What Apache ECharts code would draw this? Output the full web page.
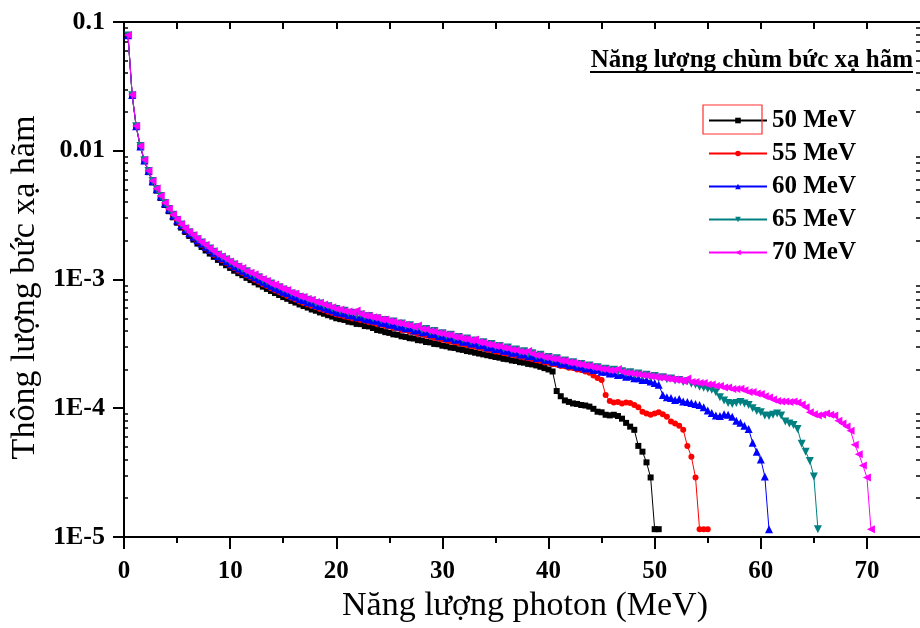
<!DOCTYPE html>
<html>
<head>
<meta charset="utf-8">
<script src="https://cdn.jsdelivr.net/npm/echarts@6/dist/echarts.min.js"></script>
<style>
  html, body { margin: 0; padding: 0; background: #ffffff; }
  #chart { width: 920px; height: 628px; }
</style>
</head>
<body>
<div id="chart"></div>
<script>
// Photon energy bin centres (MeV)
const energyMeV = [
  0.38,0.77,1.15,1.54,1.92,2.31,2.69,3.08,3.46,3.85,4.23,4.62,5.00,
  5.38,5.77,6.15,6.54,6.92,7.31,7.69,8.08,8.46,8.85,9.23,9.62,10.00,
  10.38,10.77,11.15,11.54,11.92,12.31,12.69,13.08,13.46,13.85,14.23,14.62,15.00,
  15.38,15.77,16.15,16.54,16.92,17.31,17.69,18.08,18.46,18.85,19.23,19.62,20.00,
  20.38,20.77,21.15,21.54,21.92,22.31,22.69,23.08,23.46,23.85,24.23,24.62,25.00,
  25.38,25.77,26.15,26.54,26.92,27.31,27.69,28.08,28.46,28.85,29.23,29.62,30.00,
  30.38,30.77,31.15,31.54,31.92,32.31,32.69,33.08,33.46,33.85,34.23,34.62,35.00,
  35.38,35.77,36.15,36.54,36.92,37.31,37.69,38.08,38.46,38.85,39.23,39.62,40.00,
  40.38,40.77,41.15,41.54,41.92,42.31,42.69,43.08,43.46,43.85,44.23,44.62,45.00,
  45.38,45.77,46.15,46.54,46.92,47.31,47.69,48.08,48.46,48.85,49.23,49.62,50.00,
  50.38,50.77,51.15,51.54,51.92,52.31,52.69,53.08,53.46,53.85,54.23,54.62,55.00,
  55.38,55.77,56.15,56.54,56.92,57.31,57.69,58.08,58.46,58.85,59.23,59.62,60.00,
  60.38,60.77,61.15,61.54,61.92,62.31,62.69,63.08,63.46,63.85,64.23,64.62,65.00,
  65.38,65.77,66.15,66.54,66.92,67.31,67.69,68.08,68.46,68.85,69.23,69.62,70.00,
  70.38
];

// Bremsstrahlung photon flux for each beam energy
const flux50 = [
  7.80e-2,2.68e-2,1.53e-2,1.07e-2,8.30e-3,6.82e-3,5.68e-3,4.90e-3,4.30e-3,3.79e-3,3.39e-3,3.04e-3,2.76e-3,
  2.53e-3,2.34e-3,2.18e-3,2.04e-3,1.90e-3,1.79e-3,1.68e-3,1.59e-3,1.50e-3,1.42e-3,1.35e-3,1.29e-3,1.23e-3,
  1.17e-3,1.12e-3,1.08e-3,1.03e-3,9.90e-4,9.50e-4,9.15e-4,8.80e-4,8.45e-4,8.15e-4,7.85e-4,7.58e-4,7.30e-4,
  7.08e-4,6.82e-4,6.62e-4,6.40e-4,6.22e-4,6.05e-4,5.85e-4,5.72e-4,5.55e-4,5.42e-4,5.28e-4,5.15e-4,5.00e-4,
  4.92e-4,4.85e-4,4.70e-4,4.65e-4,4.52e-4,4.50e-4,4.35e-4,4.32e-4,4.20e-4,4.05e-4,4.00e-4,3.90e-4,3.85e-4,
  3.75e-4,3.72e-4,3.62e-4,3.58e-4,3.50e-4,3.48e-4,3.38e-4,3.36e-4,3.27e-4,3.25e-4,3.16e-4,3.14e-4,3.06e-4,
  3.03e-4,2.96e-4,2.94e-4,2.87e-4,2.84e-4,2.78e-4,2.75e-4,2.70e-4,2.66e-4,2.62e-4,2.58e-4,2.54e-4,2.50e-4,
  2.47e-4,2.42e-4,2.40e-4,2.35e-4,2.33e-4,2.28e-4,2.26e-4,2.21e-4,2.19e-4,2.15e-4,2.10e-4,2.05e-4,2.00e-4,
  1.93e-4,1.36e-4,1.24e-4,1.15e-4,1.12e-4,1.09e-4,1.08e-4,1.06e-4,1.05e-4,1.03e-4,9.9e-5,9.4e-5,9.3e-5,
  8.9e-5,8.8e-5,8.9e-5,8.7e-5,8.3e-5,7.7e-5,7.2e-5,6.8e-5,5.1e-5,4.6e-5,3.8e-5,2.9e-5,1.15e-5,
  1.15e-5
];
const flux55 = [
  7.88e-2,2.70e-2,1.54e-2,1.08e-2,8.38e-3,6.90e-3,5.76e-3,4.98e-3,4.38e-3,3.86e-3,3.46e-3,3.10e-3,2.83e-3,
  2.60e-3,2.41e-3,2.25e-3,2.11e-3,1.97e-3,1.86e-3,1.75e-3,1.66e-3,1.56e-3,1.48e-3,1.41e-3,1.35e-3,1.28e-3,
  1.23e-3,1.17e-3,1.13e-3,1.08e-3,1.04e-3,9.95e-4,9.60e-4,9.20e-4,8.90e-4,8.55e-4,8.25e-4,7.98e-4,7.70e-4,
  7.45e-4,7.20e-4,6.98e-4,6.75e-4,6.58e-4,6.40e-4,6.22e-4,6.08e-4,5.90e-4,5.78e-4,5.62e-4,5.50e-4,5.34e-4,
  5.28e-4,5.15e-4,5.10e-4,4.98e-4,4.95e-4,4.82e-4,4.78e-4,4.65e-4,4.62e-4,4.50e-4,4.46e-4,4.35e-4,4.32e-4,
  4.20e-4,4.18e-4,4.05e-4,4.04e-4,3.92e-4,3.90e-4,3.78e-4,3.76e-4,3.65e-4,3.63e-4,3.52e-4,3.50e-4,3.40e-4,
  3.38e-4,3.30e-4,3.26e-4,3.20e-4,3.15e-4,3.10e-4,3.05e-4,3.00e-4,2.95e-4,2.92e-4,2.85e-4,2.83e-4,2.76e-4,
  2.74e-4,2.68e-4,2.65e-4,2.60e-4,2.56e-4,2.52e-4,2.48e-4,2.44e-4,2.40e-4,2.36e-4,2.33e-4,2.28e-4,2.26e-4,
  2.20e-4,2.19e-4,2.13e-4,2.12e-4,2.06e-4,2.05e-4,2.00e-4,1.98e-4,1.93e-4,1.89e-4,1.80e-4,1.72e-4,1.66e-4,
  1.27e-4,1.14e-4,1.11e-4,1.12e-4,1.09e-4,1.11e-4,1.10e-4,1.06e-4,1.02e-4,9.4e-5,9.1e-5,8.9e-5,9.1e-5,
  9.3e-5,9.0e-5,8.6e-5,7.9e-5,7.6e-5,7.3e-5,6.8e-5,5.1e-5,4.2e-5,2.9e-5,1.15e-5,1.15e-5,1.15e-5
];
const flux60 = [
  7.90e-2,2.71e-2,1.55e-2,1.08e-2,8.40e-3,6.95e-3,5.80e-3,5.02e-3,4.42e-3,3.90e-3,3.50e-3,3.14e-3,2.87e-3,
  2.64e-3,2.45e-3,2.29e-3,2.15e-3,2.02e-3,1.90e-3,1.80e-3,1.70e-3,1.61e-3,1.52e-3,1.46e-3,1.39e-3,1.33e-3,
  1.27e-3,1.22e-3,1.17e-3,1.12e-3,1.08e-3,1.04e-3,1.00e-3,9.60e-4,9.25e-4,8.95e-4,8.62e-4,8.35e-4,8.05e-4,
  7.85e-4,7.52e-4,7.35e-4,7.05e-4,6.92e-4,6.68e-4,6.60e-4,6.35e-4,6.22e-4,6.05e-4,5.90e-4,5.78e-4,5.60e-4,
  5.52e-4,5.45e-4,5.30e-4,5.25e-4,5.12e-4,5.10e-4,4.95e-4,4.90e-4,4.80e-4,4.78e-4,4.62e-4,4.60e-4,4.48e-4,
  4.46e-4,4.32e-4,4.32e-4,4.18e-4,4.20e-4,4.02e-4,4.05e-4,3.90e-4,3.92e-4,3.76e-4,3.78e-4,3.63e-4,3.64e-4,
  3.52e-4,3.54e-4,3.40e-4,3.42e-4,3.28e-4,3.30e-4,3.18e-4,3.20e-4,3.08e-4,3.10e-4,2.98e-4,2.98e-4,2.88e-4,
  2.90e-4,2.80e-4,2.80e-4,2.70e-4,2.72e-4,2.62e-4,2.63e-4,2.54e-4,2.55e-4,2.46e-4,2.48e-4,2.38e-4,2.38e-4,
  2.30e-4,2.31e-4,2.22e-4,2.24e-4,2.16e-4,2.17e-4,2.10e-4,2.11e-4,2.04e-4,2.05e-4,1.98e-4,1.99e-4,1.92e-4,
  1.92e-4,1.86e-4,1.87e-4,1.81e-4,1.82e-4,1.76e-4,1.77e-4,1.71e-4,1.71e-4,1.66e-4,1.66e-4,1.61e-4,1.57e-4,
  1.52e-4,1.27e-4,1.22e-4,1.20e-4,1.16e-4,1.18e-4,1.13e-4,1.12e-4,1.10e-4,1.08e-4,1.06e-4,1.02e-4,9.6e-5,
  9.2e-5,8.8e-5,8.7e-5,9.0e-5,8.9e-5,8.6e-5,8.0e-5,7.7e-5,7.3e-5,6.9e-5,5.4e-5,4.6e-5,4.0e-5,
  2.95e-5,1.15e-5
];
const flux65 = [
  7.85e-2,2.70e-2,1.55e-2,1.09e-2,8.45e-3,6.95e-3,5.82e-3,5.05e-3,4.46e-3,3.93e-3,3.53e-3,3.18e-3,2.90e-3,
  2.68e-3,2.48e-3,2.33e-3,2.19e-3,2.05e-3,1.94e-3,1.83e-3,1.74e-3,1.64e-3,1.56e-3,1.49e-3,1.43e-3,1.36e-3,
  1.31e-3,1.25e-3,1.20e-3,1.16e-3,1.11e-3,1.07e-3,1.04e-3,9.90e-4,9.60e-4,9.30e-4,8.90e-4,8.70e-4,8.35e-4,
  8.15e-4,7.80e-4,7.65e-4,7.30e-4,7.20e-4,6.95e-4,6.85e-4,6.55e-4,6.50e-4,6.25e-4,6.20e-4,5.95e-4,5.90e-4,
  5.70e-4,5.72e-4,5.50e-4,5.52e-4,5.30e-4,5.35e-4,5.15e-4,5.20e-4,4.98e-4,5.00e-4,4.82e-4,4.85e-4,4.65e-4,
  4.72e-4,4.50e-4,4.55e-4,4.35e-4,4.42e-4,4.20e-4,4.25e-4,4.05e-4,4.12e-4,3.92e-4,3.98e-4,3.78e-4,3.82e-4,
  3.66e-4,3.72e-4,3.52e-4,3.58e-4,3.42e-4,3.48e-4,3.30e-4,3.36e-4,3.20e-4,3.25e-4,3.10e-4,3.15e-4,3.00e-4,
  3.05e-4,2.90e-4,2.96e-4,2.82e-4,2.86e-4,2.72e-4,2.77e-4,2.64e-4,2.68e-4,2.55e-4,2.60e-4,2.46e-4,2.50e-4,
  2.39e-4,2.44e-4,2.32e-4,2.35e-4,2.25e-4,2.28e-4,2.18e-4,2.21e-4,2.12e-4,2.15e-4,2.06e-4,2.08e-4,2.00e-4,
  2.03e-4,1.96e-4,1.99e-4,1.91e-4,1.94e-4,1.87e-4,1.90e-4,1.83e-4,1.86e-4,1.79e-4,1.82e-4,1.75e-4,1.78e-4,
  1.71e-4,1.74e-4,1.68e-4,1.70e-4,1.64e-4,1.66e-4,1.60e-4,1.62e-4,1.55e-4,1.52e-4,1.47e-4,1.44e-4,1.42e-4,
  1.39e-4,1.33e-4,1.22e-4,1.15e-4,1.10e-4,1.08e-4,1.10e-4,1.12e-4,1.09e-4,1.06e-4,1.00e-4,9.5e-5,9.3e-5,
  8.8e-5,8.7e-5,8.9e-5,9.1e-5,8.8e-5,7.9e-5,7.6e-5,7.4e-5,6.9e-5,5.3e-5,4.6e-5,3.9e-5,2.95e-5,
  1.15e-5
];
const flux70 = [
  7.93e-2,2.72e-2,1.56e-2,1.09e-2,8.50e-3,7.00e-3,5.85e-3,5.08e-3,4.48e-3,3.95e-3,3.55e-3,3.19e-3,2.92e-3,
  2.69e-3,2.50e-3,2.34e-3,2.21e-3,2.07e-3,1.95e-3,1.85e-3,1.75e-3,1.66e-3,1.57e-3,1.51e-3,1.44e-3,1.38e-3,
  1.32e-3,1.27e-3,1.23e-3,1.16e-3,1.13e-3,1.10e-3,1.04e-3,1.01e-3,9.75e-4,9.28e-4,9.15e-4,8.75e-4,8.45e-4,
  8.30e-4,7.90e-4,7.75e-4,7.40e-4,7.30e-4,7.05e-4,6.95e-4,6.70e-4,6.60e-4,6.40e-4,6.25e-4,6.10e-4,5.90e-4,
  5.85e-4,5.70e-4,5.65e-4,5.55e-4,5.75e-4,5.40e-4,5.25e-4,5.20e-4,5.10e-4,5.05e-4,4.90e-4,4.88e-4,4.75e-4,
  4.70e-4,4.60e-4,4.55e-4,4.45e-4,4.40e-4,4.28e-4,4.40e-4,4.12e-4,4.10e-4,3.98e-4,3.95e-4,3.84e-4,3.80e-4,
  3.72e-4,3.70e-4,3.58e-4,3.56e-4,3.47e-4,3.45e-4,3.36e-4,3.42e-4,3.25e-4,3.22e-4,3.14e-4,3.12e-4,3.05e-4,
  3.03e-4,2.95e-4,2.93e-4,2.85e-4,2.83e-4,2.76e-4,2.74e-4,2.78e-4,2.65e-4,2.58e-4,2.57e-4,2.49e-4,2.48e-4,
  2.42e-4,2.41e-4,2.34e-4,2.33e-4,2.27e-4,2.26e-4,2.21e-4,2.19e-4,2.14e-4,2.13e-4,2.08e-4,2.06e-4,2.02e-4,
  2.01e-4,1.97e-4,1.97e-4,2.02e-4,1.92e-4,1.89e-4,1.88e-4,1.85e-4,1.84e-4,1.81e-4,1.80e-4,1.77e-4,1.76e-4,
  1.73e-4,1.73e-4,1.70e-4,1.69e-4,1.67e-4,1.66e-4,1.63e-4,1.70e-4,1.60e-4,1.60e-4,1.57e-4,1.57e-4,1.53e-4,
  1.53e-4,1.49e-4,1.49e-4,1.45e-4,1.45e-4,1.41e-4,1.41e-4,1.42e-4,1.38e-4,1.34e-4,1.34e-4,1.30e-4,1.29e-4,
  1.24e-4,1.21e-4,1.17e-4,1.14e-4,1.13e-4,1.13e-4,1.12e-4,1.13e-4,1.11e-4,1.07e-4,1.02e-4,9.3e-5,9.0e-5,
  8.8e-5,8.9e-5,9.1e-5,8.9e-5,8.8e-5,8.0e-5,7.6e-5,7.2e-5,6.7e-5,5.2e-5,4.4e-5,3.6e-5,2.9e-5,
  1.15e-5
];

const seriesNames = ['50 MeV', '55 MeV', '60 MeV', '65 MeV', '70 MeV'];
const seriesFlux = [flux50, flux55, flux60, flux65, flux70];
const seriesColors = ['#000000', '#ff0000', '#0000ff', '#008080', '#ff00ff'];
const seriesSymbols = ['rect', 'circle', 'triangle', 'triangle', 'triangle'];
const symbolRotations = [0, 0, 0, 180, 90];
const symbolSizes = [6, 6, 8, 8, 8];

const xTickValues = [0, 10, 20, 30, 40, 50, 60, 70];
const xMinorTickValues = [5, 15, 25, 35, 45, 55, 65];
const xTopTickValues = [0, 5, 10, 15, 20, 25, 30, 35, 40, 45, 50, 55, 60, 65, 70];
const yTickValues = [1e-5, 1e-4, 1e-3, 1e-2, 1e-1];
const yTickLabels = ['1E-5', '1E-4', '1E-3', '0.01', '0.1'];
const legendTitle = 'Năng lượng chùm bức xạ hãm';
const xAxisTitle = 'Năng lượng photon (MeV)';
const yAxisTitle = 'Thông lượng bức xạ hãm';

// log-scale minor ticks (2..9 within each decade)
const yMinorTickValues = [];
for (let e = -5; e < -1; e++) {
  for (let m = 2; m <= 9; m++) yMinorTickValues.push(m * Math.pow(10, e));
}

const SERIF = 'Liberation Serif';
const X_MIN = 0, X_MAX = 75, Y_MIN = 1e-5, Y_MAX = 0.1;
const lineBlack = { show: true, lineStyle: { color: '#000', width: 2 } };

function xAxisBase(extra) {
  return Object.assign({
    type: 'value', min: X_MIN, max: X_MAX,
    splitLine: { show: false }, axisLabel: { show: false }
  }, extra);
}
function yAxisBase(extra) {
  return Object.assign({
    type: 'log', logBase: 10, min: Y_MIN, max: Y_MAX,
    splitLine: { show: false }, axisLabel: { show: false }
  }, extra);
}

const chart = echarts.init(document.getElementById('chart'), null, { renderer: 'canvas' });

const option = {
  animation: false,
  backgroundColor: '#ffffff',
  grid: { left: 124, right: -3, top: 22, bottom: 90, containLabel: false },
  xAxis: [
    xAxisBase({
      position: 'bottom',
      axisLine: lineBlack,
      axisTick: { show: true, inside: false, length: 12, customValues: xTickValues, lineStyle: { color: '#000', width: 2 } },
      axisLabel: {
        show: true, customValues: xTickValues, margin: 22,
        fontFamily: SERIF, fontWeight: 'bold', fontSize: 25, color: '#000'
      },
      name: xAxisTitle, nameLocation: 'middle', nameGap: 52,
      nameTextStyle: { fontFamily: SERIF, fontSize: 34, color: '#000', padding: [0, 0, 0, 6] }
    }),
    xAxisBase({
      position: 'bottom',
      axisLine: { show: false },
      axisTick: { show: true, inside: false, length: 6, customValues: xMinorTickValues, lineStyle: { color: '#000', width: 2 } }
    }),
    xAxisBase({
      position: 'top',
      axisLine: lineBlack,
      axisTick: { show: true, inside: true, length: 7, customValues: xTopTickValues, lineStyle: { color: '#000', width: 2 } }
    })
  ],
  yAxis: [
    yAxisBase({
      position: 'left',
      axisLine: lineBlack,
      axisTick: { show: true, inside: false, length: 11, customValues: yTickValues, lineStyle: { color: '#000', width: 2 } },
      axisLabel: {
        show: true, customValues: yTickValues, margin: 19,
        fontFamily: SERIF, fontWeight: 'bold', fontSize: 26, color: '#000',
        formatter: v => yTickLabels[Math.round(Math.log10(v)) + 5]
      },
      name: yAxisTitle, nameLocation: 'middle', nameGap: 78, nameRotate: 90,
      nameTextStyle: { fontFamily: SERIF, fontSize: 34, color: '#000', padding: [0, 16, 0, 0] }
    }),
    yAxisBase({
      position: 'left',
      axisLine: { show: false },
      axisTick: { show: true, inside: true, length: 4, customValues: yMinorTickValues, lineStyle: { color: '#000', width: 1.5 } }
    }),
    yAxisBase({
      position: 'right',
      axisLine: lineBlack,
      axisTick: { show: true, inside: true, length: 10, customValues: yTickValues, lineStyle: { color: '#000', width: 2 } }
    }),
    yAxisBase({
      position: 'right',
      axisLine: { show: false },
      axisTick: { show: true, inside: true, length: 4, customValues: yMinorTickValues, lineStyle: { color: '#000', width: 1.5 } }
    })
  ],
  legend: {
    data: seriesNames,
    orient: 'vertical',
    left: 703,
    top: 103,
    itemWidth: 58,
    itemHeight: 7,
    itemGap: 8,
    selectedMode: false,
    textStyle: { fontFamily: SERIF, fontWeight: 'bold', fontSize: 25, color: '#000', lineHeight: 23 }
  },
  graphic: [
    {
      type: 'text', x: 913, y: 61, z: 10,
      style: { text: legendTitle, fontFamily: SERIF, fontWeight: 'bold', fontSize: 25, fill: '#000', align: 'right', verticalAlign: 'middle' }
    },
    {
      type: 'line', z: 10,
      shape: { x1: 590, y1: 72, x2: 913, y2: 72 },
      style: { stroke: '#000', lineWidth: 2 }
    },
    {
      type: 'rect', z: 10,
      shape: { x: 703, y: 105, width: 59, height: 29 },
      style: { fill: 'none', stroke: '#ff3030', lineWidth: 1.2 }
    }
  ],
  series: seriesNames.map((name, s) => ({
    type: 'line',
    name: name,
    xAxisIndex: 0,
    yAxisIndex: 0,
    data: seriesFlux[s].map((v, i) => [energyMeV[i], v]),
    symbol: seriesSymbols[s],
    symbolSize: symbolSizes[s],
    symbolRotate: symbolRotations[s],
    showSymbol: true,
    showAllSymbol: true,
    lineStyle: { color: seriesColors[s], width: 1 },
    itemStyle: { color: seriesColors[s] },
    emphasis: { disabled: true },
    z: 2 + s
  }))
};

chart.setOption(option);
</script>
</body>
</html>
